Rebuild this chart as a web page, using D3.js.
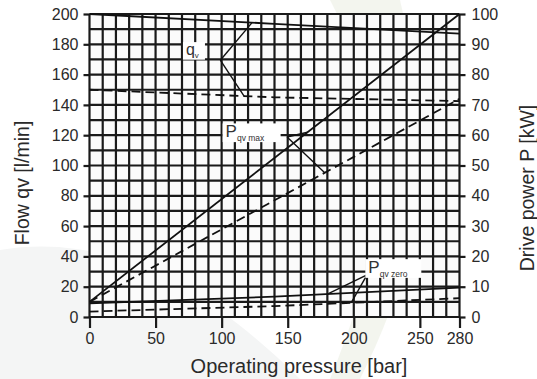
<!DOCTYPE html>
<html>
<head>
<meta charset="utf-8">
<script src="https://cdn.jsdelivr.net/npm/d3@7/dist/d3.min.js"></script>
<style>
  body { margin: 0; background: #fff; }
  svg { display: block; font-family: "Liberation Sans", Arial, Helvetica, sans-serif; }
</style>
</head>
<body>
<div id="chart"></div>
<script>
// pressure [bar] / flow [l/min] / power [kW]
const xTicks = [0, 50, 100, 150, 200, 250, 280];
const flowTicks = [0, 20, 40, 60, 80, 100, 120, 140, 160, 180, 200];
const powerTicks = [0, 10, 20, 30, 40, 50, 60, 70, 80, 90, 100];

// flow curves (l/min)
const qvSolid = [[0, 200], [140, 193.5], [280, 187]];
const qvDashed = [[0, 150], [140, 145], [280, 142.5]];
// power curves (kW)
const pMaxSolid = [[0, 5], [280, 100]];
const pMaxDashed = [[0, 5], [280, 72]];
const pZeroSolid = [[0, 4.5], [140, 6.7], [280, 9.7]];
const pZeroDashed = [[0, 1.8], [140, 3.6], [280, 6.2]];

// annotation anchors: label point, leader vertex, leader ends (pressure)
const qvNote = { label: [73, 173], vertex: [99, 169.5], ends: [123, 117] };
const pMaxNote = { label: [103, 59.4], vertex: [149.5, 59.4], ends: [165, 178] };
const pZeroNote = { label: [211, 14.6], vertex: [210, 13.9], ends: [180, 198] };

const W = 537, H = 379;
const margin = {top: 14, right: 77, bottom: 62, left: 89.5};

const svg = d3.select('#chart').append('svg')
  .attr('width', W)
  .attr('height', H);

// faint background swoosh
svg.append('path')
  .attr('d', 'M330,0 C370,80 420,160 330,379 L360,379 C450,200 420,90 400,0 Z')
  .attr('fill', '#f0f3ea')
  .attr('opacity', 0.8);
svg.append('path')
  .attr('d', 'M0,250 C120,230 220,300 300,379 L0,379 Z')
  .attr('fill', '#f4f5f5');

const x = d3.scaleLinear().domain([0, 280]).range([margin.left, W - margin.right - 0.5]);
const yQ = d3.scaleLinear().domain([0, 200]).range([H - margin.bottom, margin.top]);
const yP = d3.scaleLinear().domain([0, 100]).range([H - margin.bottom, margin.top]);

// white plot area
svg.append('rect')
  .attr('x', x(0)).attr('y', yQ(200))
  .attr('width', x(280) - x(0)).attr('height', yQ(0) - yQ(200))
  .attr('fill', '#fbfbfb');

// grid
const grid = svg.append('g').attr('class', 'grid')
  .attr('stroke', '#1a1a1a')
  .attr('stroke-width', 2.2);

grid.selectAll('line.v')
  .data(d3.range(0, 281, 10))
  .enter().append('line')
    .attr('class', 'v')
    .attr('x1', d => x(d)).attr('x2', d => x(d))
    .attr('y1', yQ(200)).attr('y2', yQ(0));

grid.selectAll('line.h')
  .data(d3.range(0, 201, 10))
  .enter().append('line')
    .attr('class', 'h')
    .attr('x1', x(0)).attr('x2', x(280))
    .attr('y1', d => yQ(d)).attr('y2', d => yQ(d));

// axes
const tickFont = 16;

const xAxis = d3.axisBottom(x).tickValues(xTicks).tickSizeInner(11).tickSizeOuter(0).tickPadding(5);
const yAxisL = d3.axisLeft(yQ).tickValues(flowTicks).tickSizeInner(6).tickSizeOuter(0).tickPadding(5);
const yAxisR = d3.axisRight(yP).tickValues(powerTicks).tickSizeInner(6).tickSizeOuter(0).tickPadding(6);

function styleAxis(g) {
  g.select('.domain').remove();
  g.selectAll('.tick line').attr('stroke', '#1a1a1a').attr('stroke-width', 2.2);
  g.selectAll('.tick text')
    .attr('fill', '#2a2a2a')
    .style('font-size', tickFont + 'px');
}

svg.append('g')
  .attr('class', 'axis axis--x')
  .attr('transform', 'translate(0,' + yQ(0) + ')')
  .call(xAxis)
  .call(styleAxis);

svg.append('g')
  .attr('class', 'axis axis--y')
  .attr('transform', 'translate(' + x(0) + ',0)')
  .call(yAxisL)
  .call(styleAxis);

svg.append('g')
  .attr('class', 'axis axis--p')
  .attr('transform', 'translate(' + x(280) + ',0)')
  .call(yAxisR)
  .call(styleAxis);

// axis titles
svg.append('text')
  .attr('x', 299)
  .attr('y', 373)
  .attr('text-anchor', 'middle')
  .attr('fill', '#2a2a2a')
  .style('font-size', '20px')
  .text('Operating pressure [bar]');

svg.append('text')
  .attr('transform', 'translate(29,183) rotate(-90)')
  .attr('text-anchor', 'middle')
  .attr('fill', '#2a2a2a')
  .style('font-size', '19.5px')
  .text('Flow qv [l/min]');

svg.append('text')
  .attr('transform', 'translate(534,188) rotate(-90)')
  .attr('text-anchor', 'middle')
  .attr('fill', '#2a2a2a')
  .style('font-size', '19.5px')
  .text('Drive power P [kW]');

// curves
const lineQ = d3.line().x(d => x(d[0])).y(d => yQ(d[1]));
const lineP = d3.line().x(d => x(d[0])).y(d => yP(d[1]));

const curves = [
  {data: qvSolid, line: lineQ, dash: null},
  {data: qvDashed, line: lineQ, dash: '9,5'},
  {data: pMaxSolid, line: lineP, dash: null},
  {data: pMaxDashed, line: lineP, dash: '9,5'},
  {data: pZeroSolid, line: lineP, dash: null},
  {data: pZeroDashed, line: lineP, dash: '9,5'}
];

svg.append('g')
  .attr('class', 'lines')
  .selectAll('path')
  .data(curves)
  .enter().append('path')
    .attr('d', d => d.line(d.data))
    .attr('fill', 'none')
    .attr('stroke', '#111')
    .attr('stroke-width', 1.8)
    .attr('stroke-dasharray', d => d.dash);

// value on a polyline at pressure p
function valueAt(data, p) {
  for (let i = 1; i < data.length; i++) {
    if (p <= data[i][0]) {
      const t = (p - data[i - 1][0]) / (data[i][0] - data[i - 1][0]);
      return data[i - 1][1] + t * (data[i][1] - data[i - 1][1]);
    }
  }
  return data[data.length - 1][1];
}

const notes = svg.append('g').attr('class', 'notes');

function leader(vx, vy, ex, ey) {
  notes.append('line')
    .attr('x1', vx).attr('y1', vy)
    .attr('x2', ex).attr('y2', ey)
    .attr('stroke', '#111')
    .attr('stroke-width', 1.4);
}

function label(px, py, main, sub, mainSize, subSize, boxW) {
  notes.append('rect')
    .attr('x', px - 3).attr('y', py - mainSize * 0.8)
    .attr('width', boxW).attr('height', mainSize * 1.1)
    .attr('fill', '#fff');
  const t = notes.append('text')
    .attr('x', px).attr('y', py)
    .attr('fill', '#333')
    .style('font-size', mainSize + 'px');
  t.append('tspan').text(main);
  t.append('tspan')
    .attr('dy', mainSize * 0.22)
    .style('font-size', subSize + 'px')
    .text(sub);
}

// qv note
leader(x(qvNote.vertex[0]), yQ(qvNote.vertex[1]), x(qvNote.ends[0]), yQ(valueAt(qvSolid, qvNote.ends[0])));
leader(x(qvNote.vertex[0]), yQ(qvNote.vertex[1]), x(qvNote.ends[1]), yQ(valueAt(qvDashed, qvNote.ends[1])));
label(x(qvNote.label[0]), yQ(qvNote.label[1]), 'q', 'v', 16, 8, 22);

// P qv max note
leader(x(pMaxNote.vertex[0]), yP(pMaxNote.vertex[1]), x(pMaxNote.ends[0]), yP(valueAt(pMaxSolid, pMaxNote.ends[0])));
leader(x(pMaxNote.vertex[0]), yP(pMaxNote.vertex[1]), x(pMaxNote.ends[1]), yP(valueAt(pMaxDashed, pMaxNote.ends[1])));
label(x(pMaxNote.label[0]), yP(pMaxNote.label[1]), 'P', 'qv max', 17, 8.5, 58);

// P qv zero note
leader(x(pZeroNote.vertex[0]), yP(pZeroNote.vertex[1]), x(pZeroNote.ends[0]), yP(valueAt(pZeroSolid, pZeroNote.ends[0])));
leader(x(pZeroNote.vertex[0]), yP(pZeroNote.vertex[1]), x(pZeroNote.ends[1]), yP(valueAt(pZeroDashed, pZeroNote.ends[1])));
label(x(pZeroNote.label[0]), yP(pZeroNote.label[1]), 'P', 'qv zero', 17, 8.5, 56);
</script>
</body>
</html>
